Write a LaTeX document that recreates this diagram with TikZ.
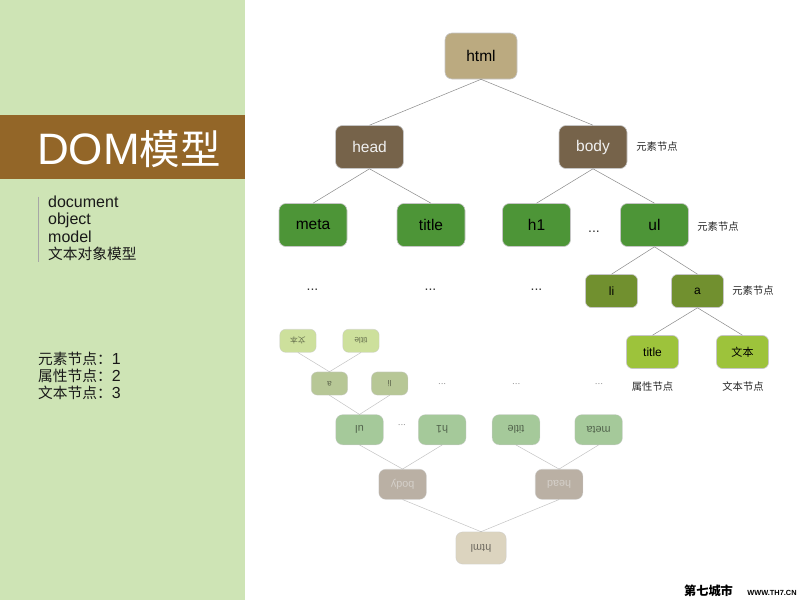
\documentclass[tikz,border=0pt]{standalone}
\usepackage{fontspec}
\setmainfont{Liberation Sans}
\newfontfamily\cjk{Noto Sans CJK SC}[Scale=0.92]

\definecolor{panelgreen}{HTML}{CEE4B5}
\definecolor{bandbrown}{HTML}{936628}
\definecolor{rootfill}{HTML}{BBAA80}
\definecolor{brownfill}{HTML}{76634A}
\definecolor{greenfill}{HTML}{4D9537}
\definecolor{olivefill}{HTML}{71902F}
\definecolor{limefill}{HTML}{9DC33B}
\definecolor{boxline}{HTML}{C6C6C6}
\definecolor{linkgray}{HTML}{8A8A8A}

% The DOM tree itself; #1 is a prefix for the node names
\newcommand\domtree[1]{%
  \node[rootnode] (#1html)  at (481,56)    {html};
  \node[headnode] (#1head)  at (369.5,147) {head};
  \node[headnode] (#1body)  at (593,147)   {body};
  \node[elemnode] (#1meta)  at (313,225)   {meta};
  \node[elemnode] (#1title) at (431,225)   {title};
  \node[elemnode] (#1hone)  at (536.5,225) {h1};
  \node[elemnode] (#1ul)    at (654.5,225) {ul};
  \node[subnode]  (#1li)    at (611.5,291) {li};
  \node[subnode]  (#1a)     at (697.5,291) {a};
  \node[leafnode] (#1attr)  at (652.5,352) {title};
  \node[leafnode] (#1text)  at (742.5,352) {\cjk 文本};
  \node[dots] (#1dotsul)   at (594,232)   {...};
  \node[dots] (#1dotsmeta) at (312.5,290) {...};
  \node[dots] (#1dotstit)  at (430.5,290) {...};
  \node[dots] (#1dotshone) at (536.5,290) {...};
  \draw[link] (#1html.south) -- (#1head.north);
  \draw[link] (#1html.south) -- (#1body.north);
  \draw[link] (#1head.south) -- (#1meta.north);
  \draw[link] (#1head.south) -- (#1title.north);
  \draw[link] (#1body.south) -- (#1hone.north);
  \draw[link] (#1body.south) -- (#1ul.north);
  \draw[link] (#1ul.south) -- (#1li.north);
  \draw[link] (#1ul.south) -- (#1a.north);
  \draw[link] (#1a.south) -- (#1attr.north);
  \draw[link] (#1a.south) -- (#1text.north);
}

\begin{document}
\begin{tikzpicture}[x=1pt,y=-1pt,
  treebox/.style={draw=boxline, line width=0.6pt, rounded corners=7pt,
    inner sep=0pt, font=\fontsize{15.5}{16}\selectfont},
  bigbox/.style={treebox, minimum width=68pt, minimum height=43pt},
  smallbox/.style={treebox, minimum width=52pt, minimum height=33pt,
    rounded corners=6pt, font=\fontsize{12}{13}\selectfont, text=black},
  rootnode/.style={bigbox, fill=rootfill, minimum width=72pt,
    minimum height=46pt, text=black},
  headnode/.style={bigbox, fill=brownfill, text=white!94!black},
  elemnode/.style={bigbox, fill=greenfill, text=black},
  subnode/.style={smallbox, fill=olivefill},
  leafnode/.style={smallbox, fill=limefill},
  link/.style={draw=linkgray, line width=0.5pt},
  dots/.style={font=\fontsize{14}{14}\selectfont, inner sep=0pt, text=black!80},
  tag/.style={font=\cjk\fontsize{11.2}{12}\selectfont, inner sep=0pt, text=black!85},
  sidetext/.style={font=\fontsize{16}{17}\selectfont, inner sep=0pt,
    anchor=base west, text=black!90},
]
\useasboundingbox (0,0) rectangle (800,600);
\fill[white] (0,0) rectangle (800,600);

% left panel
\fill[panelgreen] (0,0) rectangle (245,600);
\fill[bandbrown] (0,115) rectangle (245,179);
\node[anchor=base west, inner sep=0pt, text=white,
  font=\fontsize{44}{46}\selectfont] (heading) at (37,164) {DOM{\cjk 模型}};

\draw[black!35, line width=0.6pt] (38.3,196.7) -- (38.3,261.7);
\node[sidetext] (lineA) at (48,207)   {document};
\node[sidetext] (lineB) at (48,224.5) {object};
\node[sidetext] (lineC) at (48,242)   {model};
\node[sidetext] (lineD) at (48,259.5) {\cjk 文本对象模型};

\node[sidetext] (countA) at (38,364) {{\cjk 元素节点：}1};
\node[sidetext] (countB) at (38,381) {{\cjk 属性节点：}2};
\node[sidetext] (countC) at (38,398) {{\cjk 文本节点：}3};

% tree
\domtree{t}

% node type labels
\node[tag] (tagbody) at (657,147)   {元素节点};
\node[tag] (tagul)   at (718,227)   {元素节点};
\node[tag] (taga)    at (753,291)   {元素节点};
\node[tag] (tagattr) at (652.5,387) {属性节点};
\node[tag] (tagtext) at (743,387)   {文本节点};

% faded, turned-over copy of the tree
\begin{scope}[shift={(481,548)}, rotate=180, scale=0.7, shift={(-481,-56)},
  transform shape, opacity=0.5]
  \domtree{r}
\end{scope}

% site mark
\node[inner sep=0pt, font=\cjk\bfseries\fontsize{13.3}{14}\selectfont]
  (markcn) at (708.5,590.5) {第七城市};
\node[inner sep=0pt, font=\bfseries\fontsize{7.4}{8}\selectfont]
  (markurl) at (772,593) {WWW.TH7.CN};
\end{tikzpicture}
\end{document}
